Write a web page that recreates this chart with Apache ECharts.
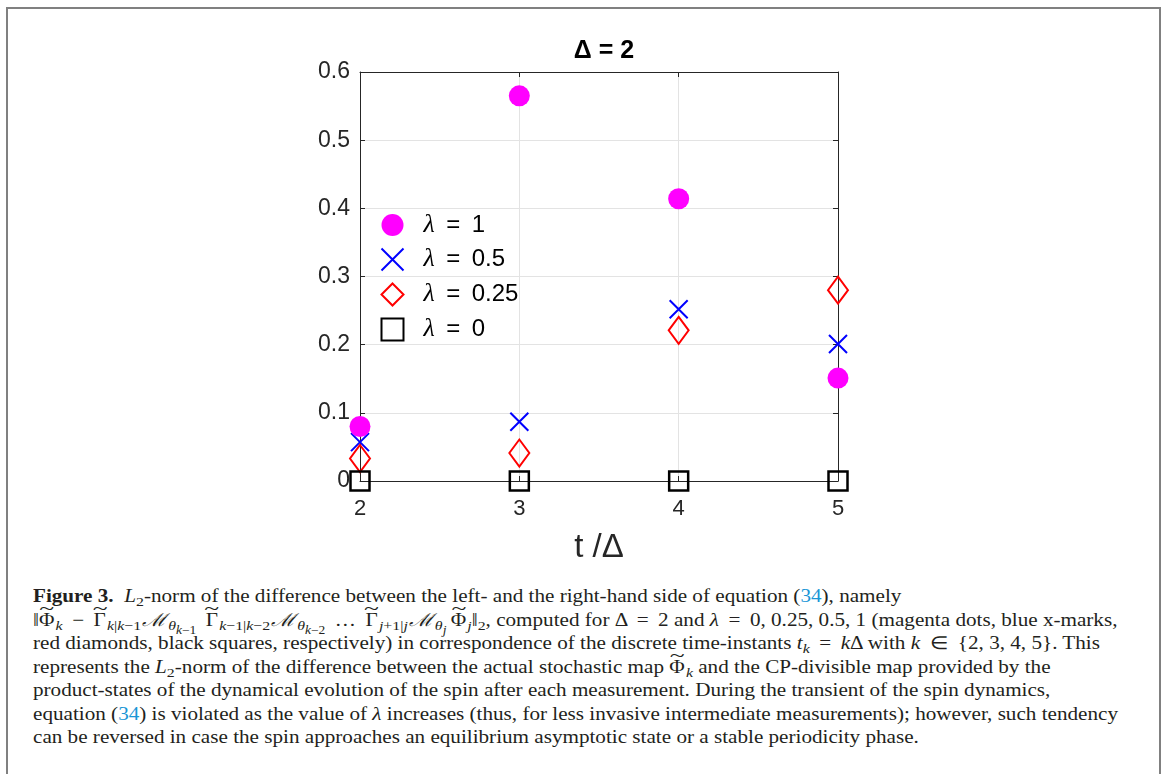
<!DOCTYPE html>
<html>
<head>
<meta charset="utf-8">
<script src="https://cdn.jsdelivr.net/npm/echarts@6/dist/echarts.min.js"></script>
<style>
	body { margin: 0; background: #fff; }
	#page { position: relative; width: 1165px; height: 774px; overflow: hidden; }
	#frame { position: absolute; left: 6px; top: 7px; width: 1151px; height: 800px; border: 2px solid #808080; border-bottom: none; }
	#chart { position: absolute; left: 0; top: 0; width: 1165px; height: 580px; }
	#caption { position: absolute; left: 33px; top: 585px; font-family: "Liberation Serif", serif; font-size: 18px; line-height: 23.5px; color: #231f20; white-space: nowrap; transform-origin: 0 0; }
	#caption .ln { display: inline-block; height: 23.5px; }
	#caption i { font-style: italic; }
	#caption sub { font-size: 0.75em; line-height: 0; vertical-align: -0.3em; }
	#caption sub sub { font-size: 0.85em; vertical-align: -0.35em; }
	.ref { color: #1a96d6; }
	.m { margin: 0 1px; }
	.tl { position: relative; display: inline-block; margin-right: 1px; }
	.tl:before { content: "~"; position: absolute; left: 0; right: 0; top: -0.6em; text-align: center; font-style: normal; transform: scaleX(1.3); }
</style>
</head>
<body>
<div id="page">
	<div id="frame"></div>
	<div id="chart"></div>
	<div id="caption">
		<div class="ln"><b>Figure 3.</b>&nbsp; <i>L</i><sub>2</sub>-norm of the difference between the left- and the right-hand side of equation (<span class="ref">34</span>), namely</div><br>
		<div class="ln">‖<span class="tl">Φ</span><sub><i>k</i></sub> &thinsp;−&thinsp; <span class="tl">Γ</span><sub><i>k</i>|<i>k</i>−1</sub><i class="m">ℳ</i><sub><i>θ</i><sub><i>k</i>−1</sub></sub>&thinsp; <span class="tl">Γ</span><sub><i>k</i>−1|<i>k</i>−2</sub><i class="m">ℳ</i><sub><i>θ</i><sub><i>k</i>−2</sub></sub> &thinsp;…&thinsp; <span class="tl">Γ</span><sub><i>j</i>+1|<i>j</i></sub><i class="m">ℳ</i><sub><i>θ</i><sub><i>j</i></sub></sub>&thinsp;<span class="tl">Φ</span><sub><i>j</i></sub>‖<sub>2</sub>, computed for Δ &thinsp;=&thinsp; 2 and <i>λ</i> &thinsp;=&thinsp; 0, 0.25, 0.5, 1 (magenta dots, blue x-marks,</div><br>
		<div class="ln">red diamonds, black squares, respectively) in correspondence of the discrete time-instants <i>t</i><sub><i>k</i></sub> &thinsp;=&thinsp; <i>k</i>Δ with <i>k</i> &thinsp;∈&thinsp; {2, 3, 4, 5}. This</div><br>
		<div class="ln">represents the <i>L</i><sub>2</sub>-norm of the difference between the actual stochastic map <span class="tl">Φ</span><sub><i>k</i></sub> and the CP-divisible map provided by the</div><br>
		<div class="ln">product-states of the dynamical evolution of the spin after each measurement. During the transient of the spin dynamics,</div><br>
		<div class="ln" id="longLine">equation (<span class="ref">34</span>) is violated as the value of <i>λ</i> increases (thus, for less invasive intermediate measurements); however, such tendency</div><br>
		<div class="ln">can be reversed in case the spin approaches an equilibrium asymptotic state or a stable periodicity phase.</div>
	</div>
</div>
<script>
	/*数据*/
	var tSteps = [2, 3, 4, 5];
	var yTicks = [0, 0.1, 0.2, 0.3, 0.4, 0.5, 0.6];
	var lambdaNames = ["λ = 1", "λ = 0.5", "λ = 0.25", "λ = 0"];
	var lam1 = [0.080, 0.565, 0.414, 0.151];
	var lam05 = [0.057, 0.087, 0.252, 0.201];
	var lam025 = [0.033, 0.041, 0.221, 0.280];
	var lam0 = [0, 0, 0, 0];

	function pairs(vals) {
		return tSteps.map(function(t, i) { return [t, vals[i]]; });
	}

	/*说明文字宽度对齐*/
	var cap = document.getElementById("caption");
	var w = document.getElementById("longLine").getBoundingClientRect().width;
	if(w > 0) {
		cap.style.transform = "scaleX(" + (1085 / w) + ")";
	}

	var axisCol = "#262626";
	var sans = "Liberation Sans";

	var chart = echarts.init(document.getElementById("chart"), null, { renderer: "canvas" });
	var option = {
		animation: false,
		backgroundColor: "transparent",
		title: {
			text: "Δ = 2",
			left: 599,
			top: 34,
			textAlign: "center",
			textStyle: { fontFamily: sans, fontSize: 25, fontWeight: "bold", color: "#000" }
		},
		grid: { left: 360, right: 327, top: 72, bottom: 99 },
		legend: {
			orient: "vertical",
			left: 379,
			top: 212,
			padding: 0,
			itemWidth: 22,
			itemHeight: 22,
			itemGap: 8,
			data: lambdaNames,
			formatter: function(name) {
				return "{i|λ}{t|" + name.slice(1).replace(/ /g, "\u2009 ") + "}";
			},
			textStyle: {
				padding: [0, 0, 0, 15],
				rich: {
					i: { fontFamily: "Liberation Serif", fontStyle: "italic", fontSize: 26, lineHeight: 24, color: "#000" },
					t: { fontFamily: sans, fontSize: 24, lineHeight: 24, color: "#000" }
				}
			}
		},
		xAxis: [{
			type: "value",
			min: 2,
			max: 5,
			interval: 1,
			name: "t /Δ",
			nameLocation: "middle",
			nameGap: 50,
			nameTextStyle: { fontFamily: sans, fontSize: 33, color: axisCol },
			axisLine: { show: true, onZero: false, lineStyle: { color: axisCol, width: 1 } },
			axisTick: { show: true, inside: true, length: 5, lineStyle: { color: axisCol } },
			axisLabel: { fontFamily: sans, fontSize: 22, color: axisCol, margin: 17 },
			splitLine: { show: true, lineStyle: { color: "#e3e3e3", width: 1 } }
		}, {
			type: "value",
			position: "top",
			min: 2,
			max: 5,
			interval: 1,
			axisLine: { show: true, onZero: false, lineStyle: { color: axisCol, width: 1 } },
			axisTick: { show: true, inside: true, length: 5, lineStyle: { color: axisCol } },
			axisLabel: { show: false },
			splitLine: { show: false }
		}],
		yAxis: [{
			type: "value",
			min: yTicks[0],
			max: yTicks[yTicks.length - 1],
			interval: 0.1,
			axisLine: { show: true, onZero: false, lineStyle: { color: axisCol, width: 1 } },
			axisTick: { show: true, inside: true, length: 5, lineStyle: { color: axisCol } },
			axisLabel: {
				fontFamily: sans, fontSize: 23, color: axisCol, margin: 10,
				formatter: function(v) { return String(Math.round(v * 10) / 10); }
			},
			splitLine: { show: true, lineStyle: { color: "#e3e3e3", width: 1 } }
		}, {
			type: "value",
			position: "right",
			min: yTicks[0],
			max: yTicks[yTicks.length - 1],
			interval: 0.1,
			axisLine: { show: true, onZero: false, lineStyle: { color: axisCol, width: 1 } },
			axisTick: { show: true, inside: true, length: 5, lineStyle: { color: axisCol } },
			axisLabel: { show: false },
			splitLine: { show: false }
		}],
		series: [{
			name: lambdaNames[0],
			type: "scatter",
			clip: false,
			z: 5,
			symbol: "circle",
			symbolSize: 21,
			itemStyle: { color: "#ff00ff", opacity: 1 },
			data: pairs(lam1)
		}, {
			name: lambdaNames[1],
			type: "scatter",
			clip: false,
			z: 2,
			symbol: "path://M0,0L10,10M10,0L0,10",
			symbolSize: 18,
			itemStyle: { color: "none", borderColor: "#0000ff", borderWidth: 2, opacity: 1 },
			data: pairs(lam05)
		}, {
			name: lambdaNames[2],
			type: "scatter",
			clip: false,
			z: 3,
			symbol: "diamond",
			symbolSize: [20, 27],
			itemStyle: { color: "none", borderColor: "#ff0000", borderWidth: 2, opacity: 1 },
			data: pairs(lam025)
		}, {
			name: lambdaNames[3],
			type: "scatter",
			clip: false,
			z: 4,
			symbol: "rect",
			symbolSize: 19,
			itemStyle: { color: "none", borderColor: "#000000", borderWidth: 2.5, opacity: 1 },
			data: pairs(lam0)
		}]
	};
	chart.setOption(option);
</script>
</body>
</html>
